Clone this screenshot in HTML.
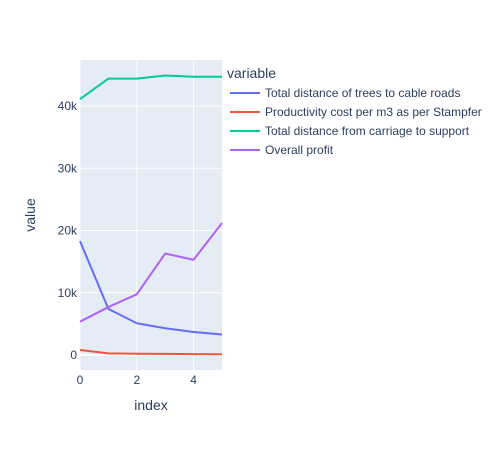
<!DOCTYPE html>
<html><head><meta charset="utf-8"><style>
body{margin:0;background:#fff;}
svg{display:block;font-family:"Liberation Sans",sans-serif;}
</style></head><body>
<svg id="chart" width="499" height="450">
<rect x="0" y="0" width="499" height="450" fill="#fff"/>
<rect x="80" y="60" width="142" height="310" fill="#e5ecf6"/>
<g id="grid"></g>
<g id="series"></g>
<g id="ticks"></g>
<text x="151" y="410" text-anchor="middle" font-size="14" fill="#2a3f5f">index</text>
<text x="35" y="215" text-anchor="middle" font-size="14" fill="#2a3f5f" transform="rotate(-90 35 215)">value</text>
<g id="legend">
<text x="227" y="78" font-size="14" fill="#2a3f5f">variable</text>
</g>
</svg>
<script>
const xValues=[0,1,2,3,4,5];
const blueValues=[18300,7400,5100,4300,3700,3300];
const redValues=[800,270,200,180,150,120];
const greenValues=[41100,44400,44400,44900,44700,44700];
const purpleValues=[5350,7700,9750,16300,15300,21200];
const seriesNames=["Total distance of trees to cable roads","Productivity cost per m3 as per Stampfer","Total distance from carriage to support","Overall profit"];
const seriesColors=["#636efa","#ef553b","#00cc96","#ab63fa"];
const yTicks=[0,10000,20000,30000,40000];
const yTickLabels=["0","10k","20k","30k","40k"];
const xTicks=[0,2,4];
const NS="http://www.w3.org/2000/svg";
const xs=v=>80+v*28.4;
const ys=v=>355-v*0.006225;
function mk(t,a,p){const e=document.createElementNS(NS,t);for(const k in a)e.setAttribute(k,a[k]);p.appendChild(e);return e;}
const grid=document.getElementById('grid'),ticks=document.getElementById('ticks');
yTicks.forEach((v,i)=>{
 const l=mk('line',{x1:80,x2:222,y1:ys(v),y2:ys(v),stroke:'#fff','stroke-width':v===0?2:1},grid);
 
 
 const t=mk('text',{x:77,y:ys(v)+4,'text-anchor':'end','font-size':12,fill:'#2a3f5f'},ticks);
 t.textContent=yTickLabels[i];
 
 
});
xTicks.forEach(v=>{
 const l=mk('line',{x1:xs(v),x2:xs(v),y1:60,y2:370,stroke:'#fff','stroke-width':1},grid);
 
 
 const t=mk('text',{x:xs(v),y:384,'text-anchor':'middle','font-size':12,fill:'#2a3f5f'},ticks);
 t.textContent=String(v);
 
 
});
const all=[blueValues,redValues,greenValues,purpleValues];
const sg=document.getElementById('series'),lg=document.getElementById('legend');
all.forEach((vals,i)=>{
 const pts=vals.map((v,j)=>xs(xValues[j])+','+ys(v)).join(' ');
 const p=mk('polyline',{points:pts,fill:'none',stroke:seriesColors[i],'stroke-width':2,'stroke-linejoin':'round'},sg);
 
 
 const y=93+i*19;
 const ll=mk('line',{x1:230,x2:260,y1:y,y2:y,stroke:seriesColors[i],'stroke-width':2},lg);
 
 
 const t=mk('text',{x:265,y:y+4,'font-size':12,fill:'#2a3f5f'},lg);
 t.textContent=seriesNames[i];
 
 
});
</script>
</body></html>
